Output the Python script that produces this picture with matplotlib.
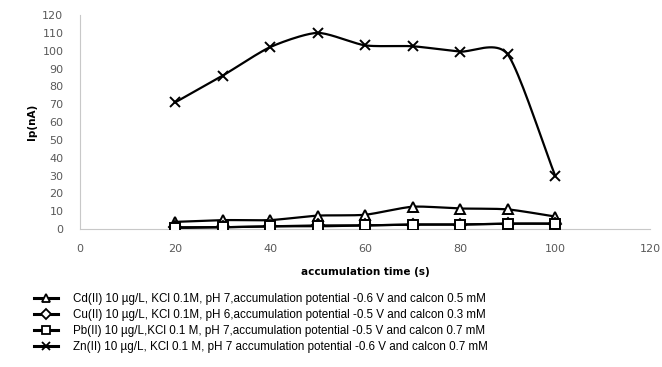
import matplotlib
matplotlib.use("Agg")
import matplotlib.pyplot as plt
import numpy as np

# accumulation time (s)
time_s = [20, 30, 40, 50, 60, 70, 80, 90, 100]

cd_ip = [4, 5, 5, 7.5, 8, 12.5, 11.5, 11, 7]
cu_ip = [1, 1, 1.5, 2, 2, 2.5, 2.5, 3, 3]
pb_ip = [0.5, 1, 1.5, 1.5, 2, 2.5, 2.5, 3, 3]
zn_ip = [71, 86, 102, 110, 103, 102.5, 99.5, 98, 30]

labels = [
    "Cd(II) 10 \u00b5g/L, KCl 0.1M, pH 7,accumulation potential -0.6 V and calcon 0.5 mM",
    "Cu(II) 10 \u00b5g/L, KCl 0.1M, pH 6,accumulation potential -0.5 V and calcon 0.3 mM",
    "Pb(II) 10 \u00b5g/L,KCl 0.1 M, pH 7,accumulation potential -0.5 V and calcon 0.7 mM",
    "Zn(II) 10 \u00b5g/L, KCl 0.1 M, pH 7 accumulation potential -0.6 V and calcon 0.7 mM",
]


def smooth(x, y, n=20, k=0.35):
    # cardinal spline through the points, like Excel's smoothed line
    x = np.asarray(x, float)
    y = np.asarray(y, float)
    px = np.concatenate([[2 * x[0] - x[1]], x, [2 * x[-1] - x[-2]]])
    py = np.concatenate([[2 * y[0] - y[1]], y, [2 * y[-1] - y[-2]]])
    t = np.linspace(0, 1, n, endpoint=False)
    h00 = 2 * t ** 3 - 3 * t ** 2 + 1
    h10 = t ** 3 - 2 * t ** 2 + t
    h01 = -2 * t ** 3 + 3 * t ** 2
    h11 = t ** 3 - t ** 2
    xs, ys = [], []
    for i in range(1, len(px) - 2):
        for p, out in ((px, xs), (py, ys)):
            m1 = k * (p[i + 1] - p[i - 1])
            m2 = k * (p[i + 2] - p[i])
            out.extend(h00 * p[i] + h10 * m1 + h01 * p[i + 1] + h11 * m2)
    xs.append(x[-1])
    ys.append(y[-1])
    return xs, ys


fig = plt.figure(figsize=(6.62, 3.67), dpi=100)
ax = fig.add_axes([0.121, 0.376, 0.861, 0.583])

series = [(cd_ip, "^"), (cu_ip, "D"), (pb_ip, "s"), (zn_ip, "x")]
handles = []
for (vals, mk), lab in zip(series, labels):
    sx, sy = smooth(time_s, vals)
    ax.plot(sx, sy, color="black", lw=1.6, zorder=2)
    ms = 6 if mk == "D" else 7
    ax.plot(time_s, vals, ls="none", marker=mk, ms=ms, mfc="white",
            mec="black", mew=1.4, zorder=3)
    h, = ax.plot([], [], color="black", lw=2.2, marker=mk, ms=ms - 1,
                 mfc="white", mec="black", mew=1.3, label=lab)
    handles.append(h)

ax.set_xlim(0, 120)
ax.set_ylim(0, 120)
ax.set_xticks(range(0, 121, 20))
ax.set_yticks(range(0, 121, 10))
for s in ["top", "right"]:
    ax.spines[s].set_visible(False)
for s in ["left", "bottom"]:
    ax.spines[s].set_color("#c8c8c8")
ax.tick_params(length=0, labelsize=8, colors="#595959")
ax.tick_params(axis="x", pad=11)
ax.tick_params(axis="y", pad=12)
ax.set_ylabel("Ip(nA)", fontsize=7.5, fontweight="bold", labelpad=4)
ax.set_xlabel("accumulation time (s)", fontsize=7.5, fontweight="bold",
              labelpad=9)

fig.legend(handles=handles, loc="upper left", bbox_to_anchor=(0.045, 0.215),
           frameon=False, prop={"family": "Liberation Sans", "size": 8.4},
           handlelength=2.0, handletextpad=1.3, labelspacing=0.35,
           borderaxespad=0)

fig.savefig("out.png", dpi=100)
